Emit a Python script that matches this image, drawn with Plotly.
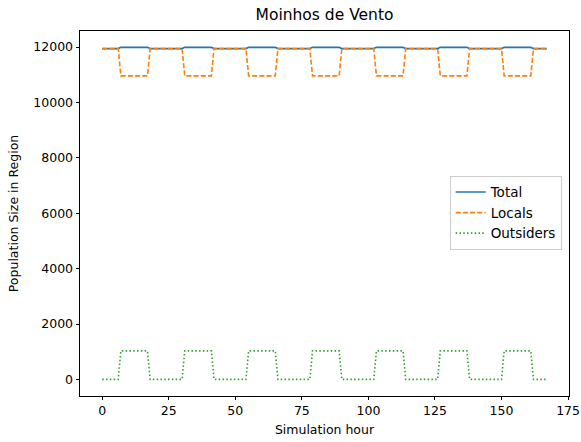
import plotly.graph_objects as go

# Hourly population counts for one simulated week, one row per day (hours 0-23)
total_by_day = [
    [11945]*7 + [11990]*11 + [11945]*6,
    [11945]*7 + [11990]*11 + [11945]*6,
    [11945]*7 + [11990]*11 + [11945]*6,
    [11945]*7 + [11990]*11 + [11945]*6,
    [11945]*7 + [11990]*11 + [11945]*6,
    [11945]*7 + [11990]*11 + [11945]*6,
    [11945]*7 + [11990]*11 + [11945]*6,
]
locals_by_day = [
    [11945]*7 + [10960]*11 + [11945]*6,
    [11945]*7 + [10960]*11 + [11945]*6,
    [11945]*7 + [10960]*11 + [11945]*6,
    [11945]*7 + [10960]*11 + [11945]*6,
    [11945]*7 + [10960]*11 + [11945]*6,
    [11945]*7 + [10960]*11 + [11945]*6,
    [11945]*7 + [10960]*11 + [11945]*6,
]
outsiders_by_day = [
    [0]*7 + [1030]*11 + [0]*6,
    [0]*7 + [1030]*11 + [0]*6,
    [0]*7 + [1030]*11 + [0]*6,
    [0]*7 + [1030]*11 + [0]*6,
    [0]*7 + [1030]*11 + [0]*6,
    [0]*7 + [1030]*11 + [0]*6,
    [0]*7 + [1030]*11 + [0]*6,
]

total = [v for day in total_by_day for v in day]
locals_ = [v for day in locals_by_day for v in day]
outsiders = [v for day in outsiders_by_day for v in day]
hours = list(range(len(total)))

x_ticks = [0, 25, 50, 75, 100, 125, 150, 175]
y_ticks = [0, 2000, 4000, 6000, 8000, 10000, 12000]
y_tick_labels = ["0", "2000", "4000", "6000", "8000", "10000", "12000"]

FONT = "DejaVu Sans"

fig = go.Figure()
fig.add_trace(go.Scatter(x=hours, y=total, name="Total", mode="lines",
                         line=dict(color="#1f77b4", width=1.6)))
fig.add_trace(go.Scatter(x=hours, y=locals_, name="Locals", mode="lines",
                         line=dict(color="#ff7f0e", width=1.6, dash="5px,2.2px")))
fig.add_trace(go.Scatter(x=hours, y=outsiders, name="Outsiders", mode="lines",
                         line=dict(color="#2ca02c", width=1.6, dash="1.5px,2.3px")))

axis_common = dict(
    showline=True, mirror=True, linecolor="black", linewidth=0.9,
    ticks="outside", ticklen=3.5, tickwidth=0.9, tickcolor="black",
    showgrid=False, zeroline=False, automargin=False,
    tickfont=dict(family=FONT, size=12.5, color="black"),
)

fig.update_layout(
    width=581, height=442,
    margin=dict(l=80, r=12, t=31, b=46),
    paper_bgcolor="white", plot_bgcolor="white",
    title=dict(text="Moinhos de Vento", x=0.5, xref="paper", xanchor="center",
               y=1 - 15 / 442, yref="container", yanchor="middle",
               font=dict(family=FONT, size=15.5, color="black")),
    xaxis=dict(axis_common, range=[-8.35, 175.35], tickvals=x_ticks,
               title=dict(text="Simulation hour", standoff=7,
                          font=dict(family=FONT, size=12.5, color="black"))),
    yaxis=dict(axis_common, range=[-600, 12580], tickvals=y_ticks,
               ticktext=y_tick_labels,
               title=dict(text="Population Size in Region", standoff=11,
                          font=dict(family=FONT, size=12.5, color="black"))),
    legend=dict(x=0.985, y=0.502, xanchor="right", yanchor="middle",
                bgcolor="rgba(255,255,255,0.8)", bordercolor="#cccccc", borderwidth=1,
                font=dict(family=FONT, size=13.5, color="black"),
                tracegroupgap=0, itemwidth=30),
    showlegend=True,
)

fig.write_html("out.html")
